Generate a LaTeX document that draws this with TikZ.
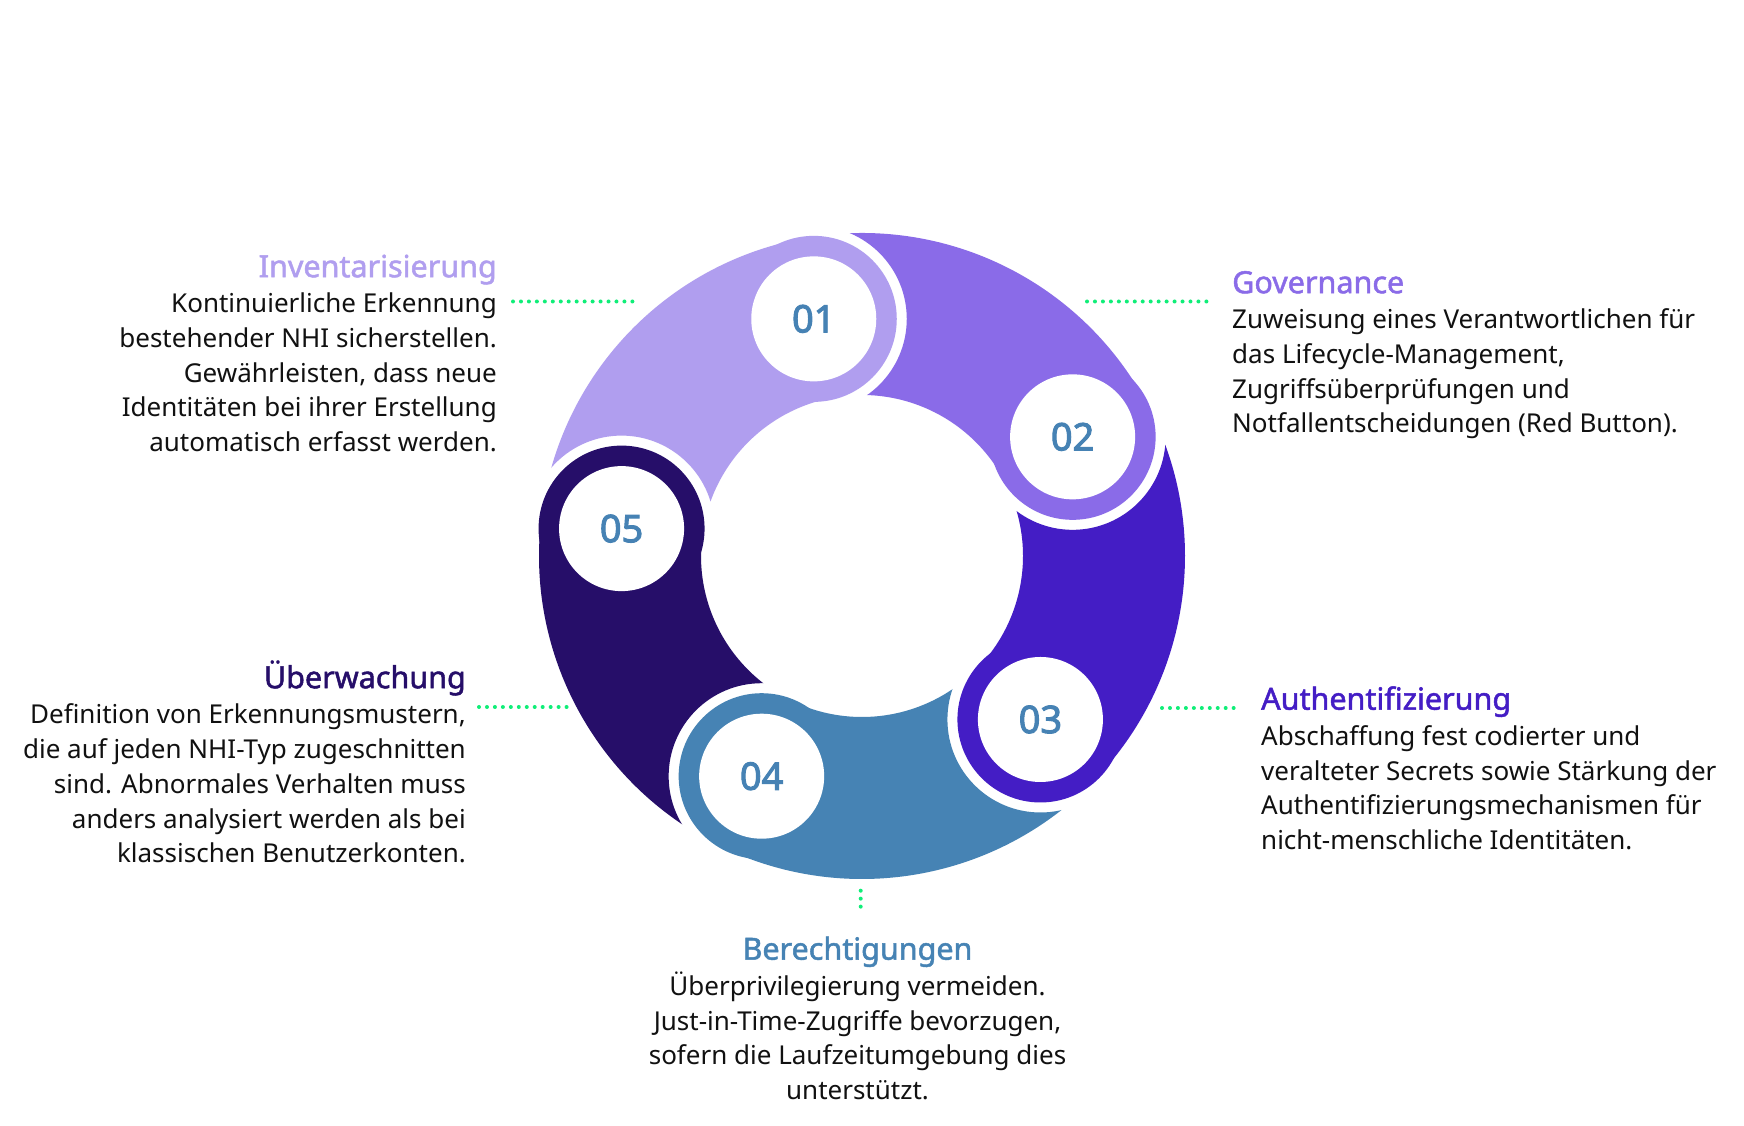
\documentclass[tikz,border=0pt]{standalone}
\usepackage{fontspec}
\setmainfont{Noto Sans}
\newfontfamily\titlefamily{Noto Sans}[FakeBold=1.6]
\newfontfamily\numfamily{Noto Sans}[FakeBold=2.6]
\usetikzlibrary{calc}
\definecolor{cA}{HTML}{B09EEF}
\definecolor{cB}{HTML}{8A6BE8}
\definecolor{cC}{HTML}{441DC5}
\definecolor{cD}{HTML}{4683B4}
\definecolor{cE}{HTML}{260E69}
\definecolor{numc}{HTML}{4682B4}
\definecolor{dotc}{HTML}{10EE78}
\definecolor{bodyc}{HTML}{111111}
\newcommand\blocktitle[2]{{\fontsize{30.5}{34.7}\titlefamily\color{#1}#2}}
\begin{document}
\begin{tikzpicture}[x=1pt,y=1pt,
  bodytext/.style={inner sep=0pt, text=bodyc, font=\fontsize{26}{34.7}\selectfont},
  numtext/.style={circle, fill=white, minimum size=125pt, inner sep=0pt, text=numc, font=\fontsize{38}{40}\numfamily},
  leader/.style={draw=dotc, line width=4pt, line cap=round, dash pattern=on 0pt off 7.96pt}
]
\fill[white] (0,0) rectangle (1744,1125);
\useasboundingbox (0,0) rectangle (1744,1125);
\coordinate (O) at (862,569);
\def\Rout{323}\def\Rin{161}\def\Rmid{242}
% ring segments
\foreach \col/\ap/\ak in {cA/173.5/101.5, cB/101.5/29.5, cC/29.5/-42.5, cD/-42.5/-114.5, cE/-114.5/-186.5} {
  \begin{scope}[even odd rule]
    \clip (-100,-100) rectangle (1900,1300) ($(O)+(\ap:\Rmid)$) circle[radius=93];
    \fill[\col] ($(O)+(\ap:\Rout)$) arc[start angle=\ap, end angle=\ak, radius=\Rout]
      -- ($(O)+(\ak:\Rin)$) arc[start angle=\ak, end angle=\ap, radius=\Rin] -- cycle;
    \fill[\col] ($(O)+(\ak:\Rmid)$) circle[radius=83];
  \end{scope}
}
% numbered circles
\node[numtext] (n1) at ($(O)+(101.5:\Rmid)$) {01};
\node[numtext] (n2) at ($(O)+(29.5:\Rmid)$) {02};
\node[numtext] (n3) at ($(O)+(-42.5:\Rmid)$) {03};
\node[numtext] (n4) at ($(O)+(-114.5:\Rmid)$) {04};
\node[numtext] (n5) at ($(O)+(173.5:\Rmid)$) {05};
% text blocks
\node[bodytext, align=right, anchor=north east] (tInv) at (497,878)
  {\rule{0pt}{30pt}\blocktitle{cA}{Inventarisierung}\\[1pt]
   Kontinuierliche Erkennung\\
   bestehender NHI sicherstellen.\\
   Gewährleisten, dass neue\\
   Identitäten bei ihrer Erstellung\\
   automatisch erfasst werden.};
\node[bodytext, align=left, anchor=north west] (tGov) at (1232,862)
  {\rule{0pt}{30pt}\blocktitle{cB}{Governance}\\[1pt]
   Zuweisung eines Verantwortlichen für\\
   das Lifecycle-Management,\\
   Zugriffsüberprüfungen und\\
   Notfallentscheidungen (Red Button).};
\node[bodytext, align=left, anchor=north west] (tAuth) at (1261,445.5)
  {\rule{0pt}{30pt}\blocktitle{cC}{Authentifizierung}\\[1pt]
   Abschaffung fest codierter und\\
   veralteter Secrets sowie Stärkung der\\
   Authentifizierungsmechanismen für\\
   nicht-menschliche Identitäten.};
\node[bodytext, align=center, anchor=north] (tBer) at (857.5,195.5)
  {\rule{0pt}{30pt}\blocktitle{cD}{Berechtigungen}\\[1pt]
   Überprivilegierung vermeiden.\\
   Just-in-Time-Zugriffe bevorzugen,\\
   sofern die Laufzeitumgebung dies\\
   unterstützt.};
\node[bodytext, align=right, anchor=north east] (tUeb) at (466,467)
  {\rule{0pt}{30pt}\blocktitle{cE}{Überwachung}\\[1pt]
   Definition von Erkennungsmustern,\\
   die auf jeden NHI-Typ zugeschnitten\\
   sind. Abnormales Verhalten muss\\
   anders analysiert werden als bei\\
   klassischen Benutzerkonten.};
% leader dots
\coordinate (invA) at (513,823.5);  \coordinate (invB) at (633,823.5);
\coordinate (govA) at (1087,823.5); \coordinate (govB) at (1207,823.5);
\coordinate (uebA) at (479,418);  \coordinate (uebB) at (569,418);
\coordinate (autA) at (1162,417); \coordinate (autB) at (1234,417);
\coordinate (berA) at (860.7,234.3);  \coordinate (berB) at (860.7,210.5);
\draw[leader] (invA) -- (invB);
\draw[leader] (govA) -- (govB);
\draw[leader] (uebA) -- (uebB);
\draw[leader] (autA) -- (autB);
\draw[leader] (berA) -- (berB);
\end{tikzpicture}
\end{document}
